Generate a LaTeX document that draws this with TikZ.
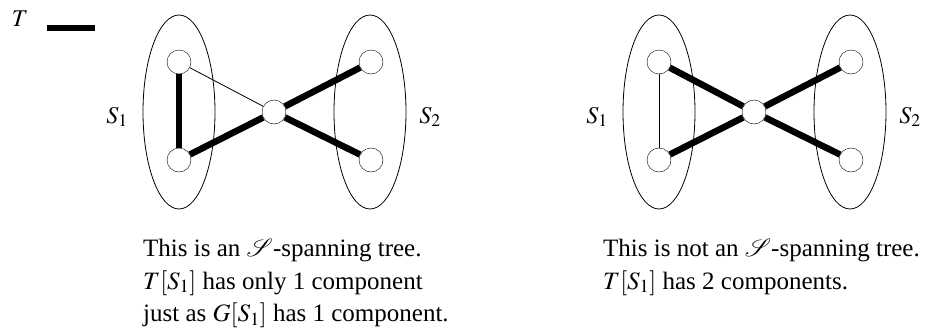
\documentclass[tikz,border=0pt]{standalone}
\usepackage{amsmath,amssymb}
\usepackage{mathptmx}
\usepackage{mathrsfs}
\usepackage[no-math]{fontspec}
\setmainfont{Liberation Serif}
\usepackage{tikz}

\tikzset{
  vtx/.style={circle, draw, fill=white, minimum size=24pt, inner sep=0pt},
  tree/.style={line width=6.5pt},
  plain/.style={line width=0.8pt},
  lbl/.style={inner sep=0pt, font=\fontsize{24}{28}\selectfont},
  txt/.style={inner sep=0pt, align=left, anchor=north west, font=\fontsize{25}{32.5}\selectfont},
}

\begin{document}
\begin{tikzpicture}[x=1pt, y=-1pt]
    \useasboundingbox (0,0) rectangle (938,335);

    % legend
    \node[lbl] (T) at (20,19) {$T$};
    \coordinate (Ta) at (47,28);
    \coordinate (Tb) at (95,28);
    \draw[tree] (Ta) -- (Tb);

    % left graph
    \draw[plain] (179,112) ellipse [x radius=36pt, y radius=97pt];
    \draw[plain] (370,112) ellipse [x radius=36pt, y radius=97pt];
    \node[lbl] (ls1) at (117,117) {$S_1$};
    \node[lbl] (ls2) at (430,117) {$S_2$};
    \node[vtx] (la) at (179,62) {};
    \node[vtx] (lb) at (179,160) {};
    \node[vtx] (lc) at (274,112) {};
    \node[vtx] (ld) at (371,62) {};
    \node[vtx] (le) at (371,160) {};
    \draw[tree] (la) -- (lb);
    \draw[plain] (la) -- (lc);
    \draw[tree] (lb) -- (lc);
    \draw[tree] (lc) -- (ld);
    \draw[tree] (lc) -- (le);
    \node[txt] (ltext) at (143,239)
      {This is an $\mathscr{S}$-spanning tree.\\
       $T[S_1]$ has only 1 component\\
       just as $G[S_1]$ has 1 component.};

    % right graph
    \draw[plain] (659,112) ellipse [x radius=36pt, y radius=97pt];
    \draw[plain] (850,112) ellipse [x radius=36pt, y radius=97pt];
    \node[lbl] (rs1) at (597,117) {$S_1$};
    \node[lbl] (rs2) at (910,117) {$S_2$};
    \node[vtx] (ra) at (659,62) {};
    \node[vtx] (rb) at (659,160) {};
    \node[vtx] (rc) at (754,112) {};
    \node[vtx] (rd) at (851,62) {};
    \node[vtx] (re) at (851,160) {};
    \draw[plain] (ra) -- (rb);
    \draw[tree] (ra) -- (rc);
    \draw[tree] (rb) -- (rc);
    \draw[tree] (rc) -- (rd);
    \draw[tree] (rc) -- (re);
    \node[txt] (rtext) at (603,239)
      {This is not an $\mathscr{S}$-spanning tree.\\
       $T[S_1]$ has 2 components.};

\end{tikzpicture}
\end{document}
